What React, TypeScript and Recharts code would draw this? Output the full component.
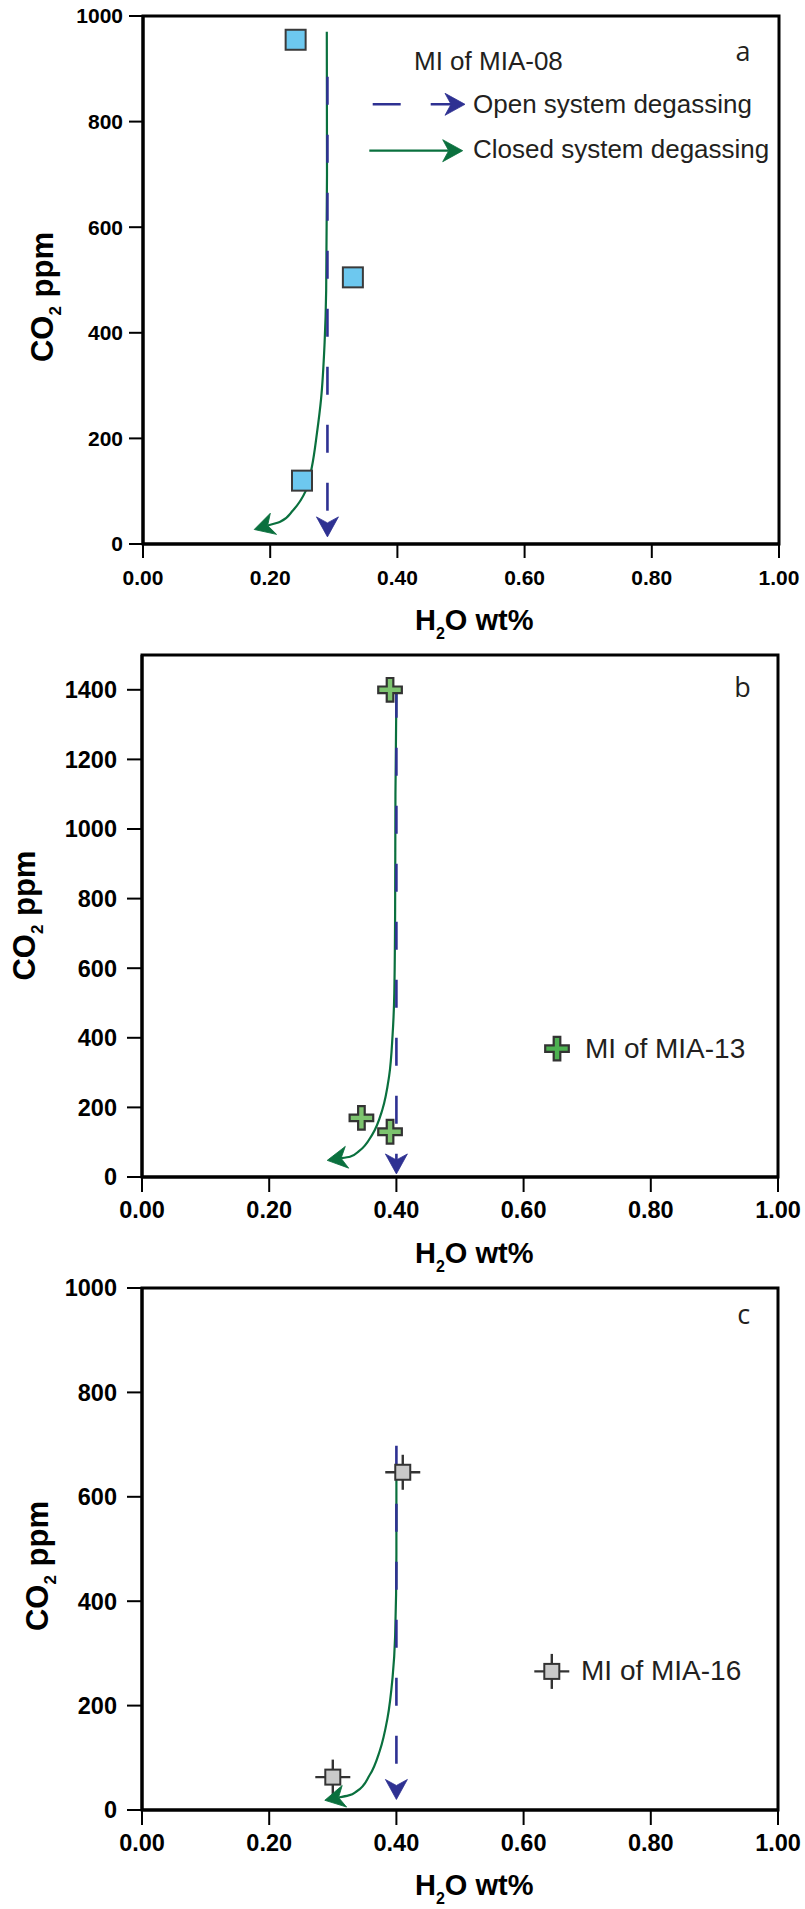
import React from 'react';
import { ComposedChart, Scatter, Line, XAxis, YAxis, ReferenceArea, Customized } from 'recharts';

const FONT = '"Liberation Sans", Arial, Helvetica, sans-serif';
const LETTER_FONT = '"Open Sans", "Liberation Sans", sans-serif';
const BLUE = '#2E3192';
const GREEN = '#0A703E';
const INK = '#231F20';

// ---------- data ----------
const xTicks = [0, 0.2, 0.4, 0.6, 0.8, 1.0];
const yTicksA = [0, 200, 400, 600, 800, 1000];
const yTicksB = [0, 200, 400, 600, 800, 1000, 1200, 1400];
const yTicksC = [0, 200, 400, 600, 800, 1000];

// Panel a: MI of MIA-08
const miaA = [
  { x: 0.24, y: 955 },
  { x: 0.33, y: 505 },
  { x: 0.25, y: 120 },
];
const openA = [
  { x: 0.29, y: 885 },
  { x: 0.29, y: 40 },
];
const closedA = [
  { x: 0.289, y: 970 },
  { x: 0.2893, y: 700 },
  { x: 0.288, y: 480 },
  { x: 0.2855, y: 380 },
  { x: 0.28, y: 275 },
  { x: 0.2735, y: 210 },
  { x: 0.2655, y: 146 },
  { x: 0.2565, y: 102 },
  { x: 0.236, y: 64 },
  { x: 0.2157, y: 42 },
  { x: 0.196, y: 35 },
];

// Panel b: MI of MIA-13
const miaB = [
  { x: 0.39, y: 1400 },
  { x: 0.345, y: 170 },
  { x: 0.39, y: 130 },
];
const openB = [
  { x: 0.4, y: 1400 },
  { x: 0.4, y: 49 },
];
const closedB = [
  { x: 0.4, y: 1390 },
  { x: 0.3985, y: 1100 },
  { x: 0.398, y: 766 },
  { x: 0.3967, y: 528 },
  { x: 0.394, y: 408 },
  { x: 0.3885, y: 289 },
  { x: 0.378, y: 194 },
  { x: 0.362, y: 122 },
  { x: 0.3416, y: 75 },
  { x: 0.327, y: 58 },
  { x: 0.313, y: 54 },
];

// Panel c: MI of MIA-16
const miaC = [
  { x: 0.41, y: 647 },
  { x: 0.3, y: 63 },
];
const openC = [
  { x: 0.4, y: 698 },
  { x: 0.4, y: 47 },
];
const closedC = [
  { x: 0.4, y: 640 },
  { x: 0.4, y: 489 },
  { x: 0.398, y: 333 },
  { x: 0.394, y: 254 },
  { x: 0.386, y: 176 },
  { x: 0.374, y: 114 },
  { x: 0.358, y: 67 },
  { x: 0.3377, y: 36 },
  { x: 0.325, y: 28 },
  { x: 0.309, y: 24 },
];

// ---------- marks ----------
function ArrowHead({ x, y, angle, color }: { x: number; y: number; angle: number; color: string }) {
  return (
    <path
      d="M14,0 L-6,-11 L0,0 L-6,11 Z"
      transform={`translate(${x},${y}) rotate(${angle})`}
      fill={color}
      stroke={color}
      strokeWidth={0.8}
      strokeLinejoin="miter"
    />
  );
}

function arrowDot(color: string, count: number) {
  const seen: Record<number, { x: number; y: number }> = {};
  return (props: any) => {
    const { cx, cy, index, points } = props;
    seen[index] = { x: cx, y: cy };
    if (index !== count - 1) return <g key={`d${index}`} />;
    const p = points && points[index - 1] ? { x: points[index - 1].x, y: points[index - 1].y } : seen[index - 1];
    const ang = p ? (Math.atan2(cy - p.y, cx - p.x) * 180) / Math.PI : 90;
    return <ArrowHead key={`d${index}`} x={cx} y={cy} angle={ang} color={color} />;
  };
}

function BlueSquare({ cx, cy }: any) {
  return <rect x={cx - 10} y={cy - 10} width={20} height={20} fill="#6DC8EF" stroke="#3A3A3A" strokeWidth={2} />;
}

function Plus({ cx, cy, fill }: { cx: number; cy: number; fill: string }) {
  const s = 11.8;
  const a = 3.3;
  const d = `M${cx - a},${cy - s} H${cx + a} V${cy - a} H${cx + s} V${cy + a} H${cx + a} V${cy + s} H${cx - a} V${cy + a} H${cx - s} V${cy - a} H${cx - a} Z`;
  return <path d={d} fill={fill} stroke="#333333" strokeWidth={2.2} strokeLinejoin="miter" />;
}

function GreySquare({ cx, cy }: { cx: number; cy: number }) {
  const e = 17.5;
  return (
    <g>
      <line x1={cx - e} y1={cy} x2={cx + e} y2={cy} stroke="#333333" strokeWidth={2.4} />
      <line x1={cx} y1={cy - e} x2={cx} y2={cy + e} stroke="#333333" strokeWidth={2.4} />
      <rect x={cx - 7.5} y={cy - 7.5} width={15} height={15} fill="#C9C9C9" stroke="#333333" strokeWidth={2} />
    </g>
  );
}

// ---------- titles ----------
function YTitle({ bx, cy }: { bx: number; cy: number }) {
  return (
    <text
      x={bx}
      y={cy}
      transform={`rotate(-90, ${bx}, ${cy})`}
      textAnchor="middle"
      fontFamily={FONT}
      fontWeight={700}
      fontSize={31}
      fill="#000"
    >
      CO
      <tspan fontSize={17} dy={8}>2</tspan>
      <tspan dy={-8}> ppm</tspan>
    </text>
  );
}

function XTitle({ x, y }: { x: number; y: number }) {
  return (
    <text x={x} y={y} textAnchor="start" fontFamily={FONT} fontWeight={700} fontSize={29} fill="#000">
      H
      <tspan fontSize={16} dy={9}>2</tspan>
      <tspan dy={-9}>O wt%</tspan>
    </text>
  );
}

function Letter({ x, y, t }: { x: number; y: number; t: string }) {
  return (
    <text x={x} y={y} textAnchor="middle" fontFamily={LETTER_FONT} fontSize={27} fill={INK}>
      {t}
    </text>
  );
}

// ---------- panel ----------
type PanelProps = {
  top: number;
  height: number;
  marginTop: number;
  marginRight: number;
  plotH: number;
  yAxisWidth: number;
  yDomain: [number, number];
  yTicks: number[];
  tickFont: number;
  tickSize: number;
  yTickMargin: number;
  xTickMargin: number;
  children: React.ReactNode;
};

function Panel(p: PanelProps) {
  const tick = { fill: '#000', fontSize: p.tickFont, fontWeight: 700, fontFamily: FONT };
  return (
    <div style={{ position: 'absolute', left: 0, top: p.top, width: 805, height: p.height }}>
      <ComposedChart
        width={805}
        height={p.height}
        margin={{ top: p.marginTop, right: p.marginRight, bottom: 0, left: 0 }}
      >
        <XAxis
          type="number"
          dataKey="x"
          domain={[0, 1]}
          ticks={xTicks}
          interval={0}
          tickFormatter={(v: number) => v.toFixed(2)}
          height={p.height - p.marginTop - p.plotH}
          axisLine={{ stroke: '#000', strokeWidth: 3 }}
          tickLine={{ stroke: '#000', strokeWidth: 2 }}
          tickSize={p.tickSize}
          tickMargin={p.xTickMargin}
          tick={tick}
          allowDataOverflow
        />
        <YAxis
          type="number"
          dataKey="y"
          domain={p.yDomain}
          ticks={p.yTicks}
          interval={0}
          width={p.yAxisWidth}
          axisLine={{ stroke: '#000', strokeWidth: 3 }}
          tickLine={{ stroke: '#000', strokeWidth: 2 }}
          tickSize={p.tickSize}
          tickMargin={p.yTickMargin}
          tick={tick}
          allowDataOverflow
        />
        <ReferenceArea
          x1={0}
          x2={1}
          y1={p.yDomain[0]}
          y2={p.yDomain[1]}
          fill="none"
          fillOpacity={0}
          stroke="#000"
          strokeWidth={3}
          ifOverflow="visible"
        />
        {p.children}
      </ComposedChart>
    </div>
  );
}

export default function App() {
  return (
    <div style={{ position: 'absolute', left: 0, top: 0, width: 805, height: 1909, background: '#fff' }}>
      {/* Panel a */}
      <Panel
        top={0}
        height={660}
        marginTop={16}
        marginRight={26}
        plotH={528}
        yAxisWidth={143}
        yDomain={[0, 1000]}
        yTicks={yTicksA}
        tickFont={21}
        tickSize={14}
        yTickMargin={6}
        xTickMargin={12}
      >
        <Scatter data={miaA} dataKey="y" isAnimationActive={false} shape={(s: any) => <BlueSquare cx={s.cx} cy={s.cy} />} legendType="none" />
        <Line data={closedA} dataKey="y" type="monotoneY" stroke={GREEN} strokeWidth={2.2} dot={arrowDot(GREEN, closedA.length)} activeDot={false} isAnimationActive={false} legendType="none" />
        <Line data={openA} dataKey="y" type="linear" stroke={BLUE} strokeWidth={2.6} strokeDasharray="28 30" dot={arrowDot(BLUE, openA.length)} activeDot={false} isAnimationActive={false} legendType="none" />
        <Customized
          component={() => (
            <g>
              <text x={414} y={70} fontFamily={FONT} fontSize={26} fill={INK}>MI of MIA-08</text>
              <line x1={372.7} y1={104.3} x2={451} y2={104.3} stroke={BLUE} strokeWidth={2.6} strokeDasharray="28 30" />
              <ArrowHead x={451} y={104.3} angle={0} color={BLUE} />
              <text x={473} y={113} fontFamily={FONT} fontSize={26} fill={INK}>Open system degassing</text>
              <line x1={369.3} y1={150.7} x2={448.7} y2={150.7} stroke={GREEN} strokeWidth={2.2} />
              <ArrowHead x={448.7} y={150.7} angle={0} color={GREEN} />
              <text x={473} y={158} fontFamily={FONT} fontSize={26} fill={INK}>Closed system degassing</text>
              <Letter x={743} y={61} t="a" />
              <YTitle bx={53} cy={297} />
              <XTitle x={415} y={630} />
            </g>
          )}
        />
      </Panel>

      {/* Panel b */}
      <Panel
        top={640}
        height={650}
        marginTop={15}
        marginRight={27}
        plotH={522}
        yAxisWidth={142}
        yDomain={[0, 1500]}
        yTicks={yTicksB}
        tickFont={23.5}
        tickSize={15}
        yTickMargin={10}
        xTickMargin={9}
      >
        <Scatter data={miaB} dataKey="y" isAnimationActive={false} shape={(s: any) => <Plus cx={s.cx} cy={s.cy} fill="#7CC36E" />} legendType="none" />
        <Line data={closedB} dataKey="y" type="monotoneY" stroke={GREEN} strokeWidth={2.2} dot={arrowDot(GREEN, closedB.length)} activeDot={false} isAnimationActive={false} legendType="none" />
        <Line data={openB} dataKey="y" type="linear" stroke={BLUE} strokeWidth={2.6} strokeDasharray="28 30" dot={arrowDot(BLUE, openB.length)} activeDot={false} isAnimationActive={false} legendType="none" />
        <Customized
          component={() => (
            <g>
              <Plus cx={557} cy={408.6} fill="#4DB151" />
              <text x={585} y={417.8} fontFamily={FONT} fontSize={28} fill={INK}>MI of MIA-13</text>
              <Letter x={742.5} y={57.3} t="b" />
              <YTitle bx={35} cy={275.6} />
              <XTitle x={415} y={623} />
            </g>
          )}
        />
      </Panel>

      {/* Panel c */}
      <Panel
        top={1270}
        height={639}
        marginTop={18}
        marginRight={27}
        plotH={522}
        yAxisWidth={142}
        yDomain={[0, 1000]}
        yTicks={yTicksC}
        tickFont={23.5}
        tickSize={15}
        yTickMargin={10}
        xTickMargin={9}
      >
        <Scatter data={miaC} dataKey="y" isAnimationActive={false} shape={(s: any) => <GreySquare cx={s.cx} cy={s.cy} />} legendType="none" />
        <Line data={closedC} dataKey="y" type="monotoneY" stroke={GREEN} strokeWidth={2.2} dot={arrowDot(GREEN, closedC.length)} activeDot={false} isAnimationActive={false} legendType="none" />
        <Line data={openC} dataKey="y" type="linear" stroke={BLUE} strokeWidth={2.6} strokeDasharray="28 30" dot={arrowDot(BLUE, openC.length)} activeDot={false} isAnimationActive={false} legendType="none" />
        <Customized
          component={() => (
            <g>
              <GreySquare cx={551.8} cy={401.4} />
              <text x={581} y={409.6} fontFamily={FONT} fontSize={28} fill={INK}>MI of MIA-16</text>
              <Letter x={743.6} y={54.2} t="c" />
              <YTitle bx={48} cy={296} />
              <XTitle x={415} y={625} />
            </g>
          )}
        />
      </Panel>
    </div>
  );
}
